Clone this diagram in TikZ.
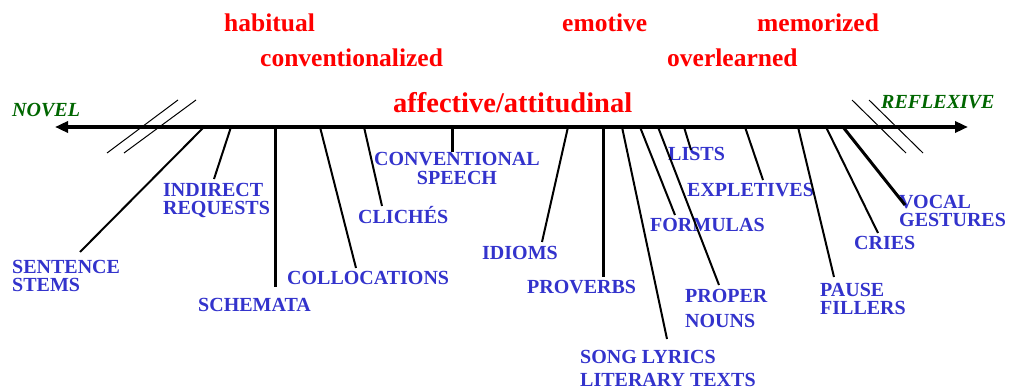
\documentclass[tikz,border=0pt]{standalone}
\usepackage{fontspec}
\setmainfont{Liberation Serif}
\usetikzlibrary{arrows.meta}
\definecolor{lblue}{RGB}{51,51,204}
\definecolor{lgreen}{RGB}{0,102,0}
\definecolor{lred}{RGB}{255,0,0}
\tikzset{
  axisline/.style={line width=4pt,{Triangle[length=13pt,width=11pt]}-{Triangle[length=13pt,width=11pt]}},
  conn/.style={line width=2pt},
  thickconn/.style={line width=3pt},
  slash/.style={line width=1pt},
  lbl/.style={text=lblue,inner sep=0pt,anchor=west,align=left,font=\fontsize{20}{18}\selectfont\bfseries},
  attr/.style={text=lred,inner sep=0pt,anchor=base west,font=\fontsize{25.5}{28}\selectfont\bfseries},
  pole/.style={text=lgreen,inner sep=0pt,anchor=west,font=\fontsize{20}{22}\selectfont\bfseries\itshape},
}
\begin{document}
\begin{tikzpicture}[x=1pt,y=-1pt]
\useasboundingbox (0,0) rectangle (1013,390);
% axis
\coordinate (L) at (55,127);
\coordinate (R) at (968,127);
\draw[axisline] (L) -- (R);
% break slashes
\coordinate (s1a) at (107,153); \coordinate (s1b) at (178,100);
\coordinate (s2a) at (124,153); \coordinate (s2b) at (196,100);
\coordinate (s3a) at (852,100); \coordinate (s3b) at (906,153);
\coordinate (s4a) at (869,100); \coordinate (s4b) at (923,153);
\draw[slash] (s1a) -- (s1b);
\draw[slash] (s2a) -- (s2b);
\draw[slash] (s3a) -- (s3b);
\draw[slash] (s4a) -- (s4b);
% poles
\node[pole] (novel) at (12,110) {NOVEL};
\node[pole] (reflexive) at (881,102) {REFLEXIVE};
% attributes
\node[attr] (habitual) at (224,32) {habitual};
\node[attr] (conventionalized) at (260,67) {conventionalized};
\node[attr] (emotive) at (562,32) {emotive};
\node[attr] (memorized) at (757,32) {memorized};
\node[attr] (overlearned) at (667,67) {overlearned};
\node[attr,font=\fontsize{28.5}{30}\selectfont\bfseries] (affective) at (393,113) {affective/attitudinal};
% labels
\node[lbl,font=\fontsize{20}{18}\selectfont\bfseries] (stems) at (12,276) {SENTENCE\\STEMS};
\node[lbl,font=\fontsize{20}{18}\selectfont\bfseries] (indirect) at (163,201) {INDIRECT\\REQUESTS};
\node[lbl] (schemata) at (198,305) {SCHEMATA};
\node[lbl] (colloc) at (287,278) {COLLOCATIONS};
\node[lbl] (cliches) at (358,215) {CLICHÉS};
\node[lbl,anchor=center,align=center,font=\fontsize{20}{19}\selectfont\bfseries] (convsp) at (457,168) {CONVENTIONAL\\SPEECH};
\node[lbl] (idioms) at (482,253) {IDIOMS};
\node[lbl] (proverbs) at (527,287) {PROVERBS};
\node[lbl,font=\fontsize{20}{23}\selectfont\bfseries] (song) at (580,368) {SONG LYRICS\\LITERARY TEXTS};
\node[lbl] (formulas) at (650,225) {FORMULAS};
\node[lbl,font=\fontsize{20}{25}\selectfont\bfseries] (proper) at (685,308) {PROPER\\NOUNS};
\node[lbl] (lists) at (668,154) {LISTS};
\node[lbl] (expl) at (687,190) {EXPLETIVES};
\node[lbl,font=\fontsize{20}{18}\selectfont\bfseries] (pause) at (820,299) {PAUSE\\FILLERS};
\node[lbl] (cries) at (854,243) {CRIES};
\node[lbl,font=\fontsize{20}{18}\selectfont\bfseries] (vocal) at (899,211) {VOCAL\\GESTURES};
% connector end points
\coordinate (stemsT) at (204,127);    \coordinate (stemsE) at (80,252);
\coordinate (indirT) at (231,127);    \coordinate (indirE) at (214,179);
\coordinate (schemT) at (275,127);    \coordinate (schemE) at (275,287);
\coordinate (collT) at (320,127);     \coordinate (collE) at (356,268);
\coordinate (clichT) at (364,127);    \coordinate (clichE) at (382,206);
\coordinate (convT) at (452,127);     \coordinate (convE) at (452,152);
\coordinate (idiomT) at (568,127);    \coordinate (idiomE) at (542,242);
\coordinate (provT) at (603,127);     \coordinate (provE) at (603,277);
\coordinate (songT) at (622,127);     \coordinate (songE) at (667,339);
\coordinate (formT) at (640,127);     \coordinate (formE) at (675,215);
\coordinate (propT) at (658,127);     \coordinate (propE) at (719,285);
\coordinate (listT) at (684,127);     \coordinate (listE) at (691,150);
\coordinate (explT) at (745,127);     \coordinate (explE) at (763,180);
\coordinate (pauseT) at (798,127);    \coordinate (pauseE) at (834,277);
\coordinate (criesT) at (826,127);    \coordinate (criesE) at (878,233);
\coordinate (vocalT) at (843,127);    \coordinate (vocalE) at (905,205);
% connectors
\draw[conn] (stemsT) -- (stemsE);
\draw[conn] (indirT) -- (indirE);
\draw[thickconn] (schemT) -- (schemE);
\draw[conn] (collT) -- (collE);
\draw[conn] (clichT) -- (clichE);
\draw[thickconn] (convT) -- (convE);
\draw[conn] (idiomT) -- (idiomE);
\draw[thickconn] (provT) -- (provE);
\draw[conn] (songT) -- (songE);
\draw[conn] (formT) -- (formE);
\draw[conn] (propT) -- (propE);
\draw[conn] (listT) -- (listE);
\draw[conn] (explT) -- (explE);
\draw[conn] (pauseT) -- (pauseE);
\draw[conn] (criesT) -- (criesE);
\draw[thickconn] (vocalT) -- (vocalE);
\end{tikzpicture}
\end{document}
